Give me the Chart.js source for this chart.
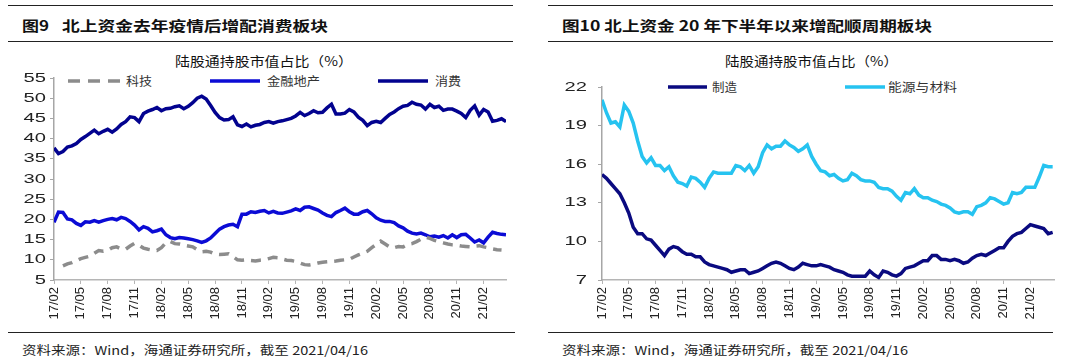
<!DOCTYPE html>
<html>
<head>
<meta charset="utf-8">
<script src="https://cdn.jsdelivr.net/npm/chart.js@4.4.1/dist/chart.umd.min.js"></script>
<style>
  html, body { margin: 0; padding: 0; background: #fff; }
  body { width: 1080px; height: 361px; position: relative; overflow: hidden;
         font-family: "Noto Sans CJK SC", "Liberation Sans", sans-serif; }
  .rule { position: absolute; height: 0; border-top: 1.6px solid #222; }
  .txt { position: absolute; white-space: nowrap; line-height: 1; transform-origin: left center; color: #111; }
  .title { font-size: 14px; font-weight: 700; top: 18px; }
  .sub { font-size: 13px; top: 54px; }
  .src { font-size: 12px; top: 344px; color: #222; }
  .leg { font-size: 12px; color: #333; }
  .box { position: absolute; width: 540px; height: 265px; top: 60px; }
  svg.key { position: absolute; overflow: visible; }
</style>
</head>
<body>

<div class="rule" style="left:8px; top:5px; width:505px"></div>
<div class="rule" style="left:8px; top:41px; width:505px"></div>
<div class="rule" style="left:8px; top:332px; width:507px"></div>
<div class="rule" style="left:548px; top:5px; width:505px"></div>
<div class="rule" style="left:548px; top:41px; width:505px"></div>
<div class="rule" style="left:548px; top:332px; width:505px"></div>

<div class="txt title" style="left:22px" data-w="27">图9</div>
<div class="txt title" style="left:62px" data-w="266">北上资金去年疫情后增配消费板块</div>
<div class="txt title" style="left:562px" data-w="370">图10 北上资金 20 年下半年以来增配顺周期板块</div>

<div class="txt sub" data-cx="264" data-w="178">陆股通持股市值占比（%）</div>
<div class="txt sub" data-cx="811" data-w="173">陆股通持股市值占比（%）</div>

<div class="txt src" style="left:22px" data-w="346">资料来源：Wind，海通证券研究所，截至 2021/04/16</div>
<div class="txt src" style="left:562px" data-w="346">资料来源：Wind，海通证券研究所，截至 2021/04/16</div>

<!-- legends -->
<svg class="key" style="left:68px; top:81px" width="52" height="1"><line x1="0" y1="0" x2="52" y2="0" stroke="#8c8c8c" stroke-width="3.5" stroke-dasharray="12 8"/></svg>
<div class="txt leg" style="left:126px; top:75px" data-w="26">科技</div>
<svg class="key" style="left:210px; top:81px" width="50" height="1"><line x1="0" y1="0" x2="50" y2="0" stroke="#0b0bd5" stroke-width="3.5"/></svg>
<div class="txt leg" style="left:267px; top:75px" data-w="53">金融地产</div>
<svg class="key" style="left:378px; top:81px" width="50" height="1"><line x1="0" y1="0" x2="50" y2="0" stroke="#02028f" stroke-width="3.5"/></svg>
<div class="txt leg" style="left:435px; top:75px" data-w="26">消费</div>

<svg class="key" style="left:668px; top:87px" width="39" height="1"><line x1="0" y1="0" x2="39" y2="0" stroke="#0a0a80" stroke-width="3.5"/></svg>
<div class="txt leg" style="left:712px; top:81px" data-w="25">制造</div>
<svg class="key" style="left:845px; top:87px" width="40" height="1"><line x1="0" y1="0" x2="40" y2="0" stroke="#26c3f0" stroke-width="3.5"/></svg>
<div class="txt leg" style="left:888px; top:81px" data-w="69">能源与材料</div>

<div class="box" style="left:0"><canvas id="left"></canvas></div>
<div class="box" style="left:540px"><canvas id="right"></canvas></div>

<script>
// half-month dates, 2017/02/01 .. 2021/04/16
const dates = [];
for (let i = 0; i < 102; i++) {
    const m = 1 + Math.floor(i / 2);
    const y = 2017 + Math.floor(m / 12);
    const mm = String(m % 12 + 1).padStart(2, '0');
    dates.push(y + '-' + mm + (i % 2 ? '-16' : '-01'));
}

const tickLabels = ['17/02', '17/05', '17/08', '17/11', '18/02', '18/05', '18/08', '18/11',
    '19/02', '19/05', '19/08', '19/11', '20/02', '20/05', '20/08', '20/11', '21/02'];

// 图9
const tech = [null, null, 8.5, 9.0, 9.3, 9.8, 10.3, 10.6, 10.9, 11.6,
    12.3, 12.1, 12.3, 13.0, 13.2, 12.7, 12.6, 13.4, 14.1, 13.6,
    12.9, 12.6, 12.4, 12.3, 13.0, 14.2, 14.5, 14.0, 13.9, 13.6,
    13.4, 13.2, 12.5, 12.0, 12.1, 11.9, 11.4, 11.3, 11.4, 11.5,
    10.8, 10.0, 9.9, 10.0, 9.8, 9.7, 9.9,
    10.0, 10.3, 10.6, 10.5, 10.2, 9.9, 9.8, 9.6, 9.2, 8.8,
    8.7, 8.9, 9.2, 9.4, 9.5, 9.6, 9.7, 9.9, 10.0, 10.1,
    10.7, 11.2, 11.6, 12.1, 13.0, 13.8, 14.6, 13.9, 13.2, 13.0,
    13.3, 13.2, 13.8, 14.0, 14.5, 15.1, 15.6, 15.3, 14.8, 14.5,
    14.2, 13.9, 13.7, 13.6, 13.4, 13.3, 13.2, 13.4, 13.5, 13.2,
    13.0, 12.7, 12.5, 12.4, null];

const finance = [19.3, 21.8, 21.7, 20.1, 19.9, 19.0, 18.5, 19.4, 19.3, 19.7,
    19.3, 19.7, 20.0, 20.2, 19.9, 20.5, 20.2, 19.5, 18.6, 17.4,
    18.2, 17.8, 16.9, 17.2, 17.6, 16.2, 15.5, 15.2, 15.5, 15.4,
    15.2, 15.0, 14.7, 14.3, 14.7, 15.4, 16.5, 17.6, 18.2, 18.6,
    18.8, 18.2, 21.3, 21.3, 21.9, 21.7, 22.0,
    22.2, 21.6, 22.0, 21.6, 21.5, 21.8, 22.1, 22.6, 22.2, 23.0,
    23.1, 22.7, 22.3, 21.6, 21.0, 20.7, 21.7, 22.2, 22.8, 21.9,
    21.3, 21.3, 21.9, 22.2, 21.4, 20.4, 19.8, 19.5, 19.5, 19.2,
    18.4, 17.9, 17.1, 16.6, 16.4, 16.6, 16.2, 15.7, 15.9, 15.6,
    16.0, 15.4, 16.2, 15.5, 16.2, 16.3, 15.4, 14.4, 14.9, 14.2,
    15.6, 16.8, 16.5, 16.3, 16.2];

const consumer = [37.7, 36.3, 36.8, 37.9, 38.2, 38.8, 39.8, 40.5, 41.3, 42.1,
    41.2, 41.8, 42.3, 41.6, 42.4, 43.5, 44.2, 45.4, 45.2, 44.2,
    46.2, 46.8, 47.2, 47.7, 46.9, 47.4, 47.5, 47.9, 48.1, 47.4,
    48.0, 48.9, 50.0, 50.5, 49.8, 48.2, 46.5, 45.2, 44.6, 44.7,
    45.4, 43.4, 43.0, 43.6, 42.9, 43.3, 43.5,
    44.0, 44.2, 43.8, 44.2, 44.4, 44.7, 45.0, 45.6, 46.5, 45.7,
    46.2, 46.9, 46.4, 46.5, 47.6, 48.5, 46.1, 46.1, 46.3, 47.2,
    46.6, 45.3, 44.5, 43.2, 44.0, 44.3, 44.0, 45.0, 46.0, 46.6,
    47.4, 48.0, 48.2, 49.0, 48.5, 48.3, 47.3, 48.5, 47.7, 48.0,
    47.0, 47.3, 47.3, 46.8, 46.2, 45.2, 47.0, 48.1, 45.8, 47.2,
    46.6, 44.3, 44.5, 44.9, 44.2];

// 图10
const manufacturing = [15.2, 14.9, 14.5, 14.1, 13.7, 13.0, 12.2, 11.1, 10.6, 10.6,
    10.2, 10.1, 9.7, 9.3, 8.9, 9.4, 9.6, 9.5, 9.2, 9.0,
    9.0, 8.8, 8.8, 8.4, 8.2, 8.1, 8.0, 7.9, 7.8, 7.6,
    7.7, 7.8, 7.8, 7.5, 7.6, 7.7, 7.9, 8.1, 8.3, 8.4,
    8.3, 8.1, 7.9, 7.8, 8.0, 8.3, 8.2, 8.1, 8.1,
    8.2, 8.1, 8.0, 7.8, 7.7, 7.6, 7.4, 7.3, 7.3, 7.3,
    7.3, 7.7, 7.4, 7.2, 7.7, 7.6, 7.4, 7.3, 7.5, 7.9,
    8.0, 8.1, 8.3, 8.5, 8.5, 8.9, 8.9, 8.6, 8.6, 8.5,
    8.6, 8.5, 8.3, 8.4, 8.7, 8.9, 9.0, 8.9, 9.1, 9.3,
    9.5, 9.5, 10.0, 10.4, 10.6, 10.7, 11.0, 11.3, 11.2, 11.1,
    11.0, 10.6, 10.7];

const energy = [21.0, 20.0, 19.2, 19.3, 18.9, 20.6, 20.1, 19.2, 17.8, 16.6,
    16.1, 16.5, 15.9, 15.9, 15.5, 15.8, 15.1, 14.6, 14.5, 14.3,
    15.0, 14.9, 14.6, 14.2, 14.9, 15.4, 15.3, 15.3, 15.3, 15.3,
    15.9, 15.8, 15.5, 15.9, 15.3, 15.8, 16.9, 17.5, 17.2, 17.4,
    17.4, 17.8, 17.5, 17.3, 17.0, 17.2, 17.5, 16.6, 16.0,
    15.5, 15.4, 15.1, 15.2, 14.9, 14.7, 14.8, 15.3, 15.1, 14.8,
    14.7, 14.7, 14.6, 14.2, 14.1, 14.1, 13.9, 13.5, 13.2, 13.8,
    13.7, 14.1, 13.6, 13.4, 13.4, 13.2, 13.1, 12.9, 12.8, 12.6,
    12.3, 12.2, 12.3, 12.3, 12.1, 12.7, 12.8, 13.0, 13.4, 13.3,
    13.1, 12.9, 13.0, 13.8, 13.7, 13.8, 14.2, 14.2, 14.2, 15.0,
    15.9, 15.8, 15.8];

Chart.defaults.font.family = '"Liberation Sans", Arial, sans-serif';
Chart.defaults.font.size = 13;
Chart.defaults.color = '#222';

const toPoints = arr => arr.map((v, i) => ({ x: i, y: v }));

function line(label, data, color, dash) {
    return {
        label: label,
        data: toPoints(data),
        borderColor: color,
        borderWidth: 3.5,
        borderDash: dash || [],
        borderCapStyle: 'butt',
        pointRadius: 0,
        tension: 0,
        spanGaps: false
    };
}

// y labels in the reference are drawn wide, so stretch them horizontally
const wideYLabels = {
    id: 'wideYLabels',
    afterDraw(chart, args, opts) {
        const s = chart.scales.y;
        const ctx = chart.ctx;
        ctx.save();
        ctx.font = '13px "Liberation Sans", Arial, sans-serif';
        ctx.fillStyle = '#222';
        ctx.textAlign = 'right';
        ctx.textBaseline = 'middle';
        s.ticks.forEach(t => {
            ctx.save();
            ctx.translate(opts.right, s.getPixelForValue(t.value));
            ctx.scale(1.55, 1);
            ctx.fillText(String(t.value), 0, 0);
            ctx.restore();
        });
        ctx.restore();
    }
};

function makeChart(id, datasets, yMin, yMax, yStep, xMax, opts) {
    return new Chart(document.getElementById(id), {
        type: 'line',
        data: { datasets: datasets },
        plugins: [wideYLabels],
        options: {
            responsive: true,
            maintainAspectRatio: false,
            animation: false,
            layout: { padding: { top: opts.top, right: opts.right, left: 0, bottom: 0 } },
            plugins: {
                legend: { display: false },
                tooltip: { enabled: false },
                wideYLabels: { right: opts.labelRight }
            },
            scales: {
                x: {
                    type: 'linear',
                    min: 0,
                    max: xMax,
                    afterBuildTicks: s => { s.ticks = tickLabels.map((t, i) => ({ value: i * 6 })); },
                    afterFit: s => { s.height = 45; },
                    ticks: {
                        autoSkip: false,
                        minRotation: 90,
                        maxRotation: 90,
                        padding: 3,
                        callback: v => tickLabels[v / 6] || ''
                    },
                    grid: { drawOnChartArea: false, tickLength: 4, color: '#b5b5b5' },
                    border: { color: '#b5b5b5', width: 1.5 }
                },
                y: {
                    min: yMin,
                    max: yMax,
                    afterFit: s => { s.width = opts.yw; },
                    ticks: { stepSize: yStep, display: false },
                    grid: { drawOnChartArea: false, tickLength: 4, color: '#a6a6a6' },
                    border: { color: '#a6a6a6', width: 1.5 }
                }
            }
        }
    });
}

makeChart('left', [
    line('科技', tech, '#8c8c8c', [10, 7]),
    line('金融地产', finance, '#0b0bd5'),
    line('消费', consumer, '#02028f')
], 5, 55, 5, 101, { top: 18, right: 34, yw: 54, labelRight: 46 });

makeChart('right', [
    line('制造', manufacturing, '#0a0a80'),
    line('能源与材料', energy, '#26c3f0')
], 7, 22, 3, 101.3, { top: 27, right: 26, yw: 62, labelRight: 47 });

// stretch text spans to the widths they have in the reference
document.fonts.ready.then(() => {
    document.querySelectorAll('[data-w]').forEach(el => {
        const w = +el.dataset.w;
        const nat = el.getBoundingClientRect().width;
        if (el.dataset.cx) el.style.left = (+el.dataset.cx - w / 2) + 'px';
        el.style.transform = 'scaleX(' + (w / nat) + ')';
    });
});
</script>
</body>
</html>
